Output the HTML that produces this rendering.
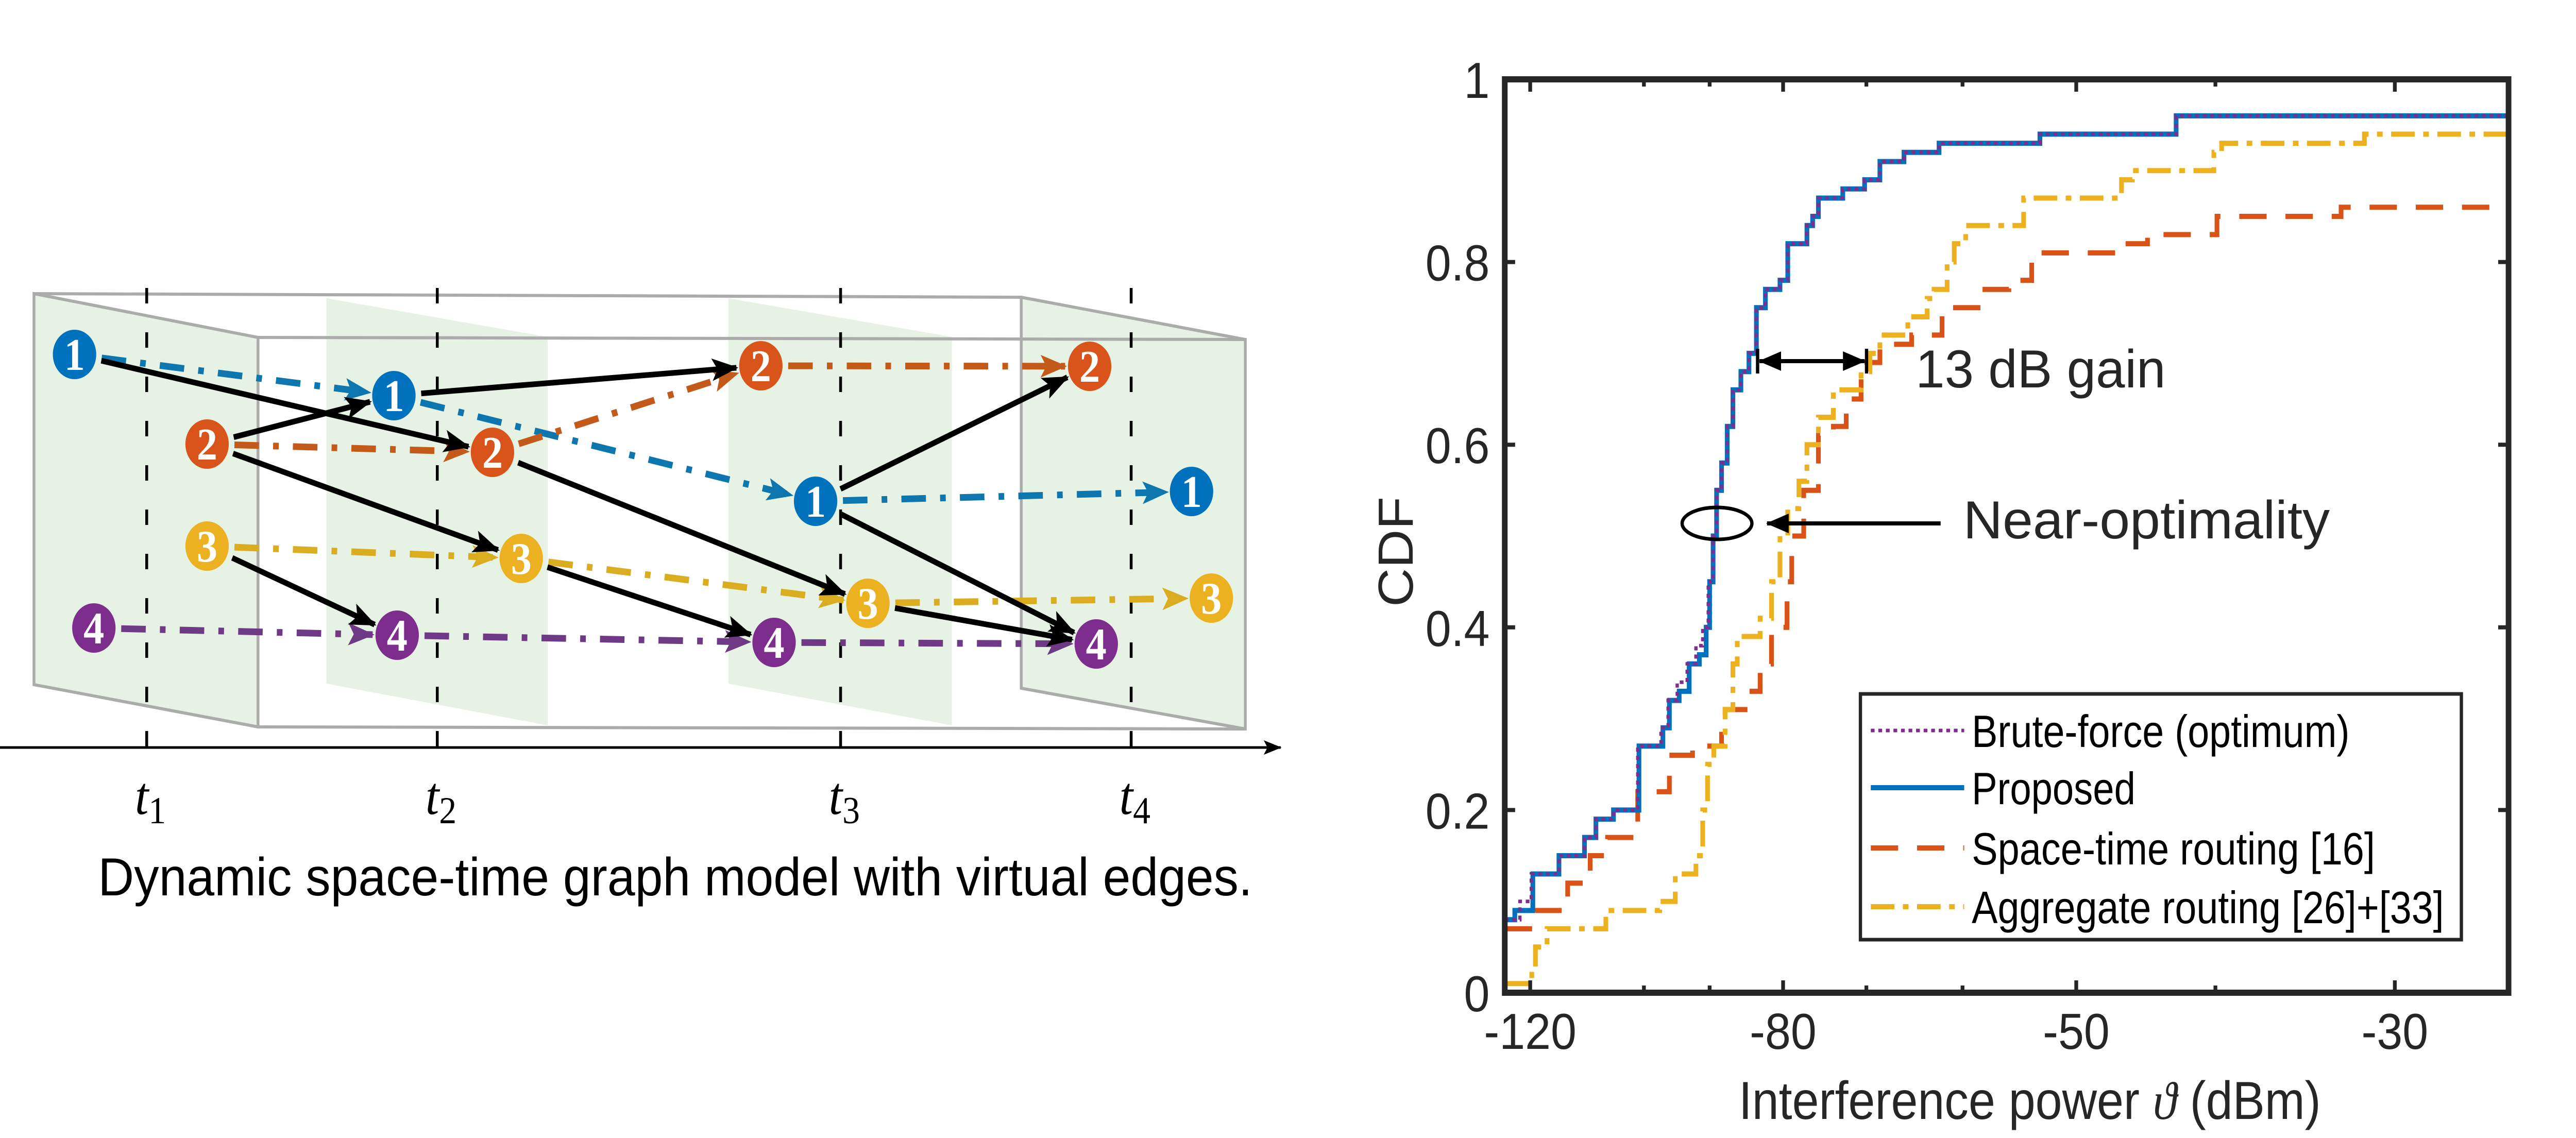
<!DOCTYPE html>
<html><head><meta charset="utf-8"><style>
html,body{margin:0;padding:0;background:#fff;width:100%;height:100%;overflow:hidden;}
svg{display:block;width:100vw;height:100vh;}
</style></head><body>
<svg id="root" viewBox="0 0 5461 2209" preserveAspectRatio="none" xmlns="http://www.w3.org/2000/svg">
<defs>
<marker id="ahK" markerUnits="userSpaceOnUse" markerWidth="60" markerHeight="60" viewBox="0 0 60 60" refX="52" refY="30" orient="auto"><path d="M0,8 L56,30 L0,52 L12,30 Z" fill="#000"/></marker>
<marker id="ahB" markerUnits="userSpaceOnUse" markerWidth="60" markerHeight="60" viewBox="0 0 60 60" refX="52" refY="30" orient="auto"><path d="M0,8 L56,30 L0,52 L12,30 Z" fill="#0e76ae"/></marker>
<marker id="ahR" markerUnits="userSpaceOnUse" markerWidth="60" markerHeight="60" viewBox="0 0 60 60" refX="52" refY="30" orient="auto"><path d="M0,8 L56,30 L0,52 L12,30 Z" fill="#c45a1a"/></marker>
<marker id="ahY" markerUnits="userSpaceOnUse" markerWidth="60" markerHeight="60" viewBox="0 0 60 60" refX="52" refY="30" orient="auto"><path d="M0,8 L56,30 L0,52 L12,30 Z" fill="#d9ad1f"/></marker>
<marker id="ahP" markerUnits="userSpaceOnUse" markerWidth="60" markerHeight="60" viewBox="0 0 60 60" refX="52" refY="30" orient="auto"><path d="M0,8 L56,30 L0,52 L12,30 Z" fill="#6f3a85"/></marker>
<marker id="ahAx" markerUnits="userSpaceOnUse" markerWidth="40" markerHeight="40" viewBox="0 0 40 40" refX="36" refY="20" orient="auto"><path d="M0,6 L38,20 L0,34 L8,20 Z" fill="#000"/></marker>
<marker id="ahG" markerUnits="userSpaceOnUse" markerWidth="50" markerHeight="50" viewBox="0 0 50 50" refX="46" refY="25" orient="auto"><path d="M0,6 L48,25 L0,44 Z" fill="#000"/></marker>
</defs>

<g id="diagram">
  <polygon points="72,570 547,655 547,1411 72,1329" fill="#e6f2e3"/>
  <polygon points="692,579 1161,654 1161,1408 692,1327" fill="#e6f2e3"/>
  <polygon points="1544,579 2018,654 2018,1408 1544,1327" fill="#e6f2e3"/>
  <polygon points="2165,577 2640,659 2640,1415 2165,1336" fill="#e6f2e3"/>
  <g fill="none" stroke="#ababab" stroke-width="6">
    <polyline points="547,655 2640,659 2640,1415 547,1411 547,655 72,570 72,1329 547,1411"/>
    <polyline points="72,570 2165,577 2640,659"/>
    <polyline points="2165,577 2165,1336 2640,1415"/>
  </g>
  <g id="tlines" stroke="#000" stroke-width="6" stroke-dasharray="30,56"></g>
  <line x1="0" y1="1451" x2="2715" y2="1451" stroke="#000" stroke-width="5" marker-end="url(#ahAx)"/>
  <g id="tlabels"></g>
  <g id="edges"></g>
  <g id="nodes"></g>
  <text x="208" y="1738" font-family="Liberation Sans, sans-serif" font-size="104" fill="#000" textLength="2447" lengthAdjust="spacingAndGlyphs">Dynamic space-time graph model with virtual edges.</text>
</g>

<g id="chart">
  <g id="plot"></g>
  <g id="axes"></g>
  <text x="0" y="0" transform="translate(2995,1071) rotate(-90)" text-anchor="middle" font-family="Liberation Sans, sans-serif" font-size="104" fill="#262626">CDF</text>
  <text x="3686" y="2172" font-family="Liberation Sans, sans-serif" font-size="104" fill="#262626" textLength="1234" lengthAdjust="spacingAndGlyphs">Interference power <tspan font-family="Liberation Serif, serif" font-style="italic">ϑ</tspan> (dBm)</text>
  <g id="annot"></g>
  <g id="legend"></g>
</g>
</svg>

<script>
const xTickValues = [-120,-100,-90,-80,-70,-60,-50,-40,-30];
const xTickLabels = ["-120","","","-80","","","-50","","-30"];
const yTickValues = [0,0.2,0.4,0.6,0.8,1];
const yTickLabels = ["0","0.2","0.4","0.6","0.8","1"];
const xDomain = [-125,-25];
const yDomain = [0,1];

const seriesNames = ["Brute-force (optimum)","Proposed","Space-time routing [16]","Aggregate routing [26]+[33]"];

const proposedX = [-125,-123,-119.5,-114.6,-110,-108,-105,-100.8,-97,-96,-94.5,-93,-91.5,-90.5,-90,-89.5,-89,-88.3,-87.5,-86.7,-85.6,-84.5,-83.5,-82.3,-80.4,-79.4,-77,-76.3,-75.6,-72.7,-70.2,-68.5,-65.9,-62.3,-53,-42.6];
const proposedY = [0.08,0.09,0.13,0.15,0.17,0.19,0.20,0.27,0.29,0.32,0.33,0.36,0.37,0.40,0.45,0.50,0.55,0.58,0.62,0.66,0.68,0.70,0.75,0.77,0.78,0.82,0.84,0.85,0.87,0.88,0.89,0.91,0.92,0.93,0.94,0.96];

const bruteX = [-125,-122,-119.8,-114.6,-110,-108,-105,-101,-97.3,-96.2,-94.8,-93.3,-92,-91,-90.2,-89.5,-89,-88.3,-87.5,-86.7,-85.6,-84.5,-83.5,-82.3,-80.4,-79.4,-77,-76.3,-75.6,-72.7,-70.2,-68.5,-65.9,-62.3,-53,-42.6];
const bruteY = [0.08,0.10,0.13,0.15,0.17,0.19,0.20,0.27,0.29,0.32,0.34,0.36,0.38,0.40,0.45,0.50,0.55,0.58,0.62,0.66,0.68,0.70,0.75,0.77,0.78,0.82,0.84,0.85,0.87,0.88,0.89,0.91,0.92,0.93,0.94,0.96];

const spaceTimeX = [-125,-119,-113,-109,-106,-101,-96,-92.5,-88.3,-87.8,-84.5,-83,-81.5,-79.5,-78.9,-77.4,-75.6,-73.8,-72.3,-70.6,-68.5,-65.1,-62,-58.2,-55.7,-53.7,-46.9,-44.6,-39.9,-32.7];
const spaceTimeY = [0.07,0.09,0.12,0.15,0.17,0.22,0.26,0.27,0.30,0.31,0.33,0.36,0.40,0.45,0.50,0.55,0.61,0.62,0.65,0.69,0.71,0.72,0.75,0.77,0.78,0.81,0.82,0.83,0.85,0.86];

const aggregateX = [-125,-119.7,-119,-116.8,-106.3,-97.5,-95.1,-92,-91,-90.3,-89.4,-87.8,-86.7,-86.1,-83,-81.5,-80.4,-79.4,-78,-77,-75.6,-73.8,-70.6,-69.6,-68.5,-65.5,-63.5,-62.8,-61.5,-60.8,-59.7,-54.4,-46.5,-45.7,-40.1,-39.6,-31.5];
const aggregateY = [0.01,0.02,0.05,0.07,0.09,0.10,0.13,0.15,0.20,0.25,0.27,0.31,0.36,0.39,0.41,0.45,0.50,0.53,0.56,0.60,0.63,0.66,0.68,0.70,0.72,0.74,0.76,0.77,0.80,0.82,0.84,0.87,0.89,0.90,0.92,0.93,0.94];

const PL=3190, PR=5318, PT=154, PB=1927;
const NS='http://www.w3.org/2000/svg';
function xS(v){ const a=Math.log10(-xDomain[0]), b=Math.log10(-xDomain[1]); return PL + (a-Math.log10(-v))/(a-b)*(PR-PL); }
function yS(v){ return PB - (v-yDomain[0])/(yDomain[1]-yDomain[0])*(PB-PT); }
function mk(tag, attrs, parent){ const e=document.createElementNS(NS,tag); for(const k in attrs) e.setAttribute(k,attrs[k]); parent.appendChild(e); return e; }

const plot=document.getElementById('plot');
function stairPath(xs, ys){
  let d='M'+xS(xs[0]).toFixed(1)+','+yS(ys[0]).toFixed(1);
  for(let i=1;i<xs.length;i++){ d+=' H'+xS(xs[i]).toFixed(1)+' V'+yS(ys[i]).toFixed(1); }
  d+=' H'+xS(xDomain[1]).toFixed(1);
  return d;
}
const st = mk('path',{d:stairPath(spaceTimeX,spaceTimeY),fill:'none',stroke:'#D95319','stroke-width':10,'stroke-dasharray':'58,40'},plot);


const ag = mk('path',{d:stairPath(aggregateX,aggregateY),fill:'none',stroke:'#EDB120','stroke-width':10,'stroke-dasharray':'50,18,12,18'},plot);


const pr = mk('path',{d:stairPath(proposedX,proposedY),fill:'none',stroke:'#0072BD','stroke-width':10},plot);


const bf = mk('path',{d:stairPath(bruteX,bruteY),fill:'none',stroke:'#7E2F8E','stroke-width':7,'stroke-dasharray':'8,8'},plot);



const axes=document.getElementById('axes');
const box = mk('rect',{x:PL,y:PT,width:PR-PL,height:PB-PT,fill:'none',stroke:'#262626','stroke-width':12},axes);


xTickValues.forEach((v,i)=>{
  const x=xS(v); const len = xTickLabels[i] ? 24 : 14;
  const t1=mk('line',{x1:x,y1:PB,x2:x,y2:PB-len,stroke:'#262626','stroke-width':8},axes);
  
  
  const t2=mk('line',{x1:x,y1:PT,x2:x,y2:PT+len,stroke:'#262626','stroke-width':8},axes);
  
  
  if(xTickLabels[i]){
    const tx=mk('text',{x:x,y:2036,'text-anchor':'middle','font-family':'Liberation Sans, sans-serif','font-size':98,fill:'#262626'},axes);
    tx.textContent=xTickLabels[i];
    
    
  }
});
yTickValues.forEach((v,i)=>{
  const y=yS(v);
  const t1=mk('line',{x1:PL,y1:y,x2:PL+22,y2:y,stroke:'#262626','stroke-width':8},axes);
  
  
  const t2=mk('line',{x1:PR,y1:y,x2:PR-22,y2:y,stroke:'#262626','stroke-width':8},axes);
  
  
  const tx=mk('text',{x:3158,y:y+36,'text-anchor':'end','font-family':'Liberation Sans, sans-serif','font-size':98,fill:'#262626'},axes);
  tx.textContent=yTickLabels[i];
  
  
});

const an=document.getElementById('annot');
const gainL=3726, gainR=3957, gainY=701;
const ga=mk('line',{x1:gainL+40,y1:gainY,x2:gainR-4,y2:gainY,stroke:'#000','stroke-width':8,'marker-end':'url(#ahG)'},an);


const gb=mk('line',{x1:gainR-40,y1:gainY,x2:gainL+4,y2:gainY,stroke:'#000','stroke-width':8,'marker-end':'url(#ahG)'},an);


[gainL,gainR].forEach(x=>{ const c=mk('line',{x1:x,y1:gainY-24,x2:x,y2:gainY+24,stroke:'#000','stroke-width':7},an);
  
   });
const gt=mk('text',{x:4061,y:752,'font-family':'Liberation Sans, sans-serif','font-size':104,fill:'#262626',textLength:530,lengthAdjust:'spacingAndGlyphs'},an);
gt.textContent='13 dB gain';


const el=mk('ellipse',{cx:3640,cy:1016,rx:74,ry:31,fill:'none',stroke:'#000','stroke-width':7},an);


const na=mk('line',{x1:4114,y1:1016,x2:3746,y2:1016,stroke:'#000','stroke-width':8,'marker-end':'url(#ahG)'},an);


const nt=mk('text',{x:4162,y:1045,'font-family':'Liberation Sans, sans-serif','font-size':104,fill:'#262626',textLength:777,lengthAdjust:'spacingAndGlyphs'},an);
nt.textContent='Near-optimality';



const lg=document.getElementById('legend');
const lb=mk('rect',{x:3944,y:1347,width:1274,height:477,fill:'#fff',stroke:'#262626','stroke-width':7},lg);


const legStyles=[{s:'#7E2F8E',w:7,d:'8,8'},{s:'#0072BD',w:10,d:''},{s:'#D95319',w:10,d:'58,40'},{s:'#EDB120',w:10,d:'50,18,12,18'}];
const legRowsY=[1418,1529,1646,1760];
const legWidths=[801,347,855,1001];
seriesNames.forEach((n,i)=>{
  const y=legRowsY[i];
  const ln=mk('line',{x1:3966,y1:y,x2:4164,y2:y,stroke:legStyles[i].s,'stroke-width':legStyles[i].w},lg);
  if(legStyles[i].d) ln.setAttribute('stroke-dasharray',legStyles[i].d);
  
  
  const t=mk('text',{x:4180,y:y+32,'font-family':'Liberation Sans, sans-serif','font-size':88,fill:'#000',textLength:legWidths[i],lengthAdjust:'spacingAndGlyphs'},lg);
  t.textContent=n;
  
  
});

const tX=[311,927,1782,2398];
const tNames=['1','2','3','4'];
const tl=document.getElementById('tlines'), tlab=document.getElementById('tlabels');
tX.forEach((x,i)=>{
  const l=mk('line',{x1:x,y1:559,x2:x,y2:1480},tl);
  
  
  const t=mk('text',{x:x-25,y:1580,'font-family':'Liberation Serif, serif','font-size':104,'font-style':'italic',fill:'#000'},tlab);
  t.textContent='t';
  const s=document.createElementNS(NS,'tspan'); s.setAttribute('font-style','normal'); s.setAttribute('font-size','74'); s.setAttribute('dy','18'); s.textContent=tNames[i]; t.appendChild(s);
  
  
});
const nodeColors={'1':'#0071bc','2':'#d9541a','3':'#ecb120','4':'#7d2e8d'};
const edgeColors={'1':['#0e76ae','ahB'],'2':['#c45a1a','ahR'],'3':['#d9ad1f','ahY'],'4':['#6f3a85','ahP']};
const nodes={
 '1a':[158,688,'1'],'1b':[835,768,'1'],'1c':[1729,973,'1'],'1d':[2526,954,'1'],
 '2a':[439,862,'2'],'2b':[1044,878,'2'],'2c':[1613,710,'2'],'2d':[2310,711,'2'],
 '3a':[439,1060,'3'],'3b':[1105,1084,'3'],'3c':[1840,1171,'3'],'3d':[2568,1161,'3'],
 '4a':[199,1219,'4'],'4b':[842,1233,'4'],'4c':[1641,1247,'4'],'4d':[2324,1250,'4']
};
const R=46;
const eg=document.getElementById('edges');
function edge(a,b,col,mkid,dash,w){
  const A=nodes[a],B=nodes[b];
  const dx=B[0]-A[0], dy=B[1]-A[1], L=Math.hypot(dx,dy), ux=dx/L, uy=dy/L;
  const l=mk('line',{x1:A[0]+ux*(R+12),y1:A[1]+uy*(R+12),x2:B[0]-ux*(R+6),y2:B[1]-uy*(R+6),stroke:col,'stroke-width':w,'marker-end':'url(#'+mkid+')'},eg);
  if(dash) l.setAttribute('stroke-dasharray',dash);
  return l;
}
['1','2','3','4'].forEach(k=>{
  [['a','b'],['b','c'],['c','d']].forEach(p=>{
    const l=edge(k+p[0],k+p[1],edgeColors[k][0],edgeColors[k][1],'52,30,12,30',13);
    
    
  });
});
[['1a','2b'],['2a','1b'],['2a','3b'],['3a','4b'],['1b','2c'],['2b','3c'],['3b','4c'],['1c','2d'],['1c','4d'],['3c','4d']].forEach(p=>{
  const l=edge(p[0],p[1],'#000','ahK','',11);
  
  
});
const ng=document.getElementById('nodes');
Object.keys(nodes).forEach(k=>{
  const n=nodes[k];
  const c=mk('ellipse',{cx:n[0],cy:n[1],rx:R,ry:R+2,fill:nodeColors[n[2]]},ng);
  
  
  const t=mk('text',{x:n[0],y:n[1]+30,'text-anchor':'middle','font-family':'Liberation Serif, serif','font-weight':'bold','font-size':88,fill:'#fff'},ng);
  t.textContent=n[2];
  
  
});
</script>
</body></html>
